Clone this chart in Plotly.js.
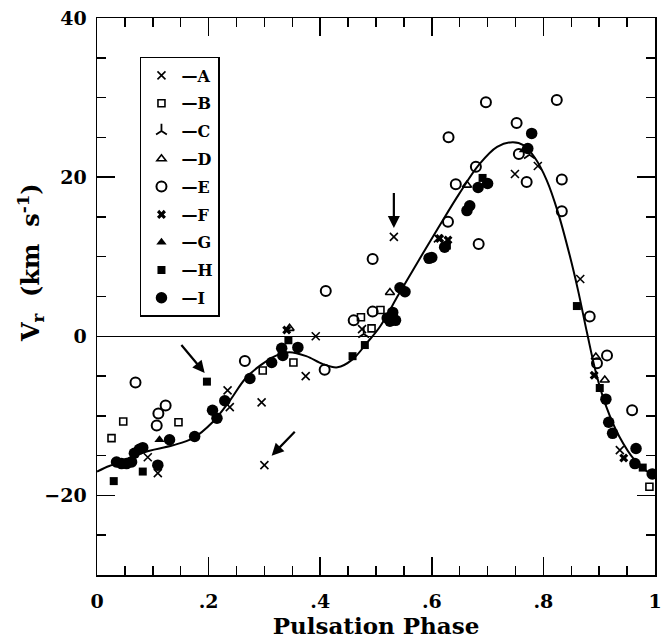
<!DOCTYPE html>
<html>
<head>
<meta charset="utf-8">
<script src="https://cdn.plot.ly/plotly-3.0.1.min.js"></script>
<style>html,body{margin:0;padding:0;background:#fff;}#chart{width:663px;height:639px;}</style>
</head>
<body>
<div id="chart"></div>
<script>
// Fitted curve (phase, Vr)
const curvePhase = [0.0, 0.022, 0.035, 0.082, 0.136, 0.172, 0.207, 0.238, 0.266, 0.294, 0.322, 0.345, 0.375, 0.405, 0.431, 0.458, 0.484, 0.507, 0.541, 0.577, 0.613, 0.649, 0.685, 0.717, 0.745, 0.765, 0.785, 0.806, 0.826, 0.847, 0.862, 0.878, 0.895, 0.913, 0.936, 0.964, 0.99, 1.0];
const curveVr    = [-17.0, -16.3, -16.0, -14.6, -13.7, -12.8, -10.8, -8.1, -5.3, -3.6, -2.4, -2.0, -2.5, -3.5, -3.9, -2.9, -0.8, 1.2, 5.3, 9.6, 13.8, 17.9, 21.6, 23.8, 24.4, 24.0, 22.4, 19.6, 15.6, 10.2, 5.8, 0.5, -4.8, -8.9, -12.6, -15.6, -17.2, -17.5];

// Observations by data set
const A_phase = [0.091, 0.109, 0.234, 0.238, 0.295, 0.300, 0.374, 0.392, 0.475, 0.532, 0.611, 0.749, 0.790, 0.866, 0.937];
const A_vr    = [-15.2, -17.2, -6.8, -8.9, -8.3, -16.2, -5.0, 0.0, 0.9, 12.5, 12.3, 20.4, 21.4, 7.2, -14.3];
const B_phase = [0.026, 0.047, 0.146, 0.297, 0.352, 0.473, 0.492, 0.508, 0.990];
const B_vr    = [-12.8, -10.7, -10.8, -4.3, -3.3, 2.4, 1.0, 3.3, -18.9];
const C_phase = [0.478, 0.775];
const C_vr    = [0.3, 22.8];
const D_phase = [0.345, 0.525, 0.663, 0.894, 0.910];
const D_vr    = [1.0, 5.5, 19.0, -2.6, -5.5];
const E_phase = [0.069, 0.107, 0.110, 0.123, 0.265, 0.408, 0.410, 0.460, 0.494, 0.494, 0.629, 0.630, 0.643, 0.679, 0.684, 0.697, 0.752, 0.756, 0.770, 0.824, 0.833, 0.833, 0.883, 0.896, 0.914, 0.959];
const E_vr    = [-5.8, -11.2, -9.7, -8.7, -3.1, -4.2, 5.7, 2.0, 3.1, 9.7, 14.4, 25.0, 19.1, 21.3, 11.6, 29.4, 26.8, 22.9, 19.4, 29.7, 19.7, 15.7, 2.5, -3.4, -2.4, -9.3];
const F_phase = [0.340, 0.614, 0.629, 0.891, 0.944];
const F_vr    = [0.8, 12.3, 12.1, -4.9, -15.3];
const G_phase = [0.112, 0.765];
const G_vr    = [-13.0, 23.4];
const H_phase = [0.030, 0.082, 0.197, 0.343, 0.458, 0.480, 0.627, 0.691, 0.860, 0.901, 0.978];
const H_vr    = [-18.2, -17.0, -5.7, -0.5, -2.5, -1.1, 11.4, 19.9, 3.8, -6.5, -16.5];
const I_phase = [0.035, 0.044, 0.053, 0.062, 0.067, 0.076, 0.082, 0.109, 0.130, 0.175, 0.207, 0.215, 0.229, 0.274, 0.313, 0.331, 0.333, 0.360, 0.520, 0.525, 0.530, 0.535, 0.543, 0.552, 0.595, 0.600, 0.623, 0.663, 0.668, 0.683, 0.700, 0.772, 0.779, 0.912, 0.917, 0.924, 0.966, 0.964, 0.995];
const I_vr    = [-15.8, -16.0, -16.0, -15.8, -14.7, -14.2, -14.0, -16.2, -13.0, -12.6, -9.3, -10.3, -8.1, -5.3, -3.3, -1.5, -2.4, -1.4, 2.3, 1.9, 3.0, 2.0, 6.1, 5.6, 9.8, 9.9, 11.2, 15.8, 16.4, 18.7, 19.2, 23.6, 25.5, -7.9, -10.8, -12.2, -14.1, -16.0, -17.3];

const seriesNames = ["—A", "—B", "—C", "—D", "—E", "—F", "—G", "—H", "—I"];

// Arrows: tip (x,y) and tail (ax,ay) in data units
const arrowTipX  = [0.193, 0.532, 0.313];
const arrowTipY  = [-4.6, 13.6, -15.0];
const arrowTailX = [0.149, 0.532, 0.357];
const arrowTailY = [-0.9, 18.2, -11.8];

const xTickVals = [0, 0.2, 0.4, 0.6, 0.8, 1];
const xTickText = ["0", ".2", ".4", ".6", ".8", "1"];
const yTickVals = [-20, 0, 20, 40];
const yTickText = ["\u221220", "0", "20", "40"];
const xTitle = "Pulsation Phase";
const yTitle = "V<sub>r</sub>&nbsp;&nbsp;(km&nbsp;&nbsp;s<sup>-1</sup>)";

const styles = [
  {symbol: "x-thin-open", size: 8, line: {width: 1.6, color: "black"}, color: "black"},
  {symbol: "square-open", size: 7, line: {width: 1.6, color: "black"}, color: "black"},
  {symbol: "y-up-open", size: 9, line: {width: 1.8, color: "black"}, color: "black"},
  {symbol: "triangle-up-open", size: 8, line: {width: 1.6, color: "black"}, color: "black"},
  {symbol: "circle-open", size: 10, line: {width: 2, color: "black"}, color: "black"},
  {symbol: "x", size: 8, line: {width: 0}, color: "black"},
  {symbol: "triangle-up", size: 9, line: {width: 0}, color: "black"},
  {symbol: "square", size: 8, line: {width: 0}, color: "black"},
  {symbol: "circle", size: 11.5, line: {width: 0}, color: "black"}
];
const xs = [A_phase, B_phase, C_phase, D_phase, E_phase, F_phase, G_phase, H_phase, I_phase];
const ys = [A_vr, B_vr, C_vr, D_vr, E_vr, F_vr, G_vr, H_vr, I_vr];

const traces = [{
  x: curvePhase, y: curveVr, type: "scatter", mode: "lines",
  line: {color: "black", width: 2, shape: "spline", smoothing: 1},
  showlegend: false, hoverinfo: "skip"
}];
for (let i = 0; i < xs.length; i++) {
  traces.push({
    x: xs[i], y: ys[i], type: "scatter", mode: "markers",
    name: seriesNames[i], legendgroup: "g" + i,
    marker: styles[i]
  });
}

const fontFam = "DejaVu Serif";
const annotations = arrowTipX.map((x, i) => ({
  x: x, y: arrowTipY[i], ax: arrowTailX[i], ay: arrowTailY[i],
  xref: "x", yref: "y", axref: "x", ayref: "y",
  text: "", showarrow: true, arrowhead: 2, arrowsize: 1.1, arrowwidth: 2.2, arrowcolor: "black"
}));
// y-axis title, placed as in the reference (slightly above the axis centre)
annotations.push({
  text: yTitle, xref: "paper", yref: "paper", x: -0.12, y: 0.56,
  xanchor: "center", yanchor: "middle", textangle: -90, showarrow: false,
  font: {family: fontFam, size: 24, weight: "bold", color: "black"}
});

const layout = {
  width: 663, height: 639,
  margin: {l: 97, r: 8, t: 18, b: 64},
  paper_bgcolor: "white", plot_bgcolor: "white",
  font: {family: fontFam, color: "black", size: 18},
  showlegend: true,
  legend: {
    x: 0.077, y: 0.93, xanchor: "left", yanchor: "top",
    bordercolor: "black", borderwidth: 1.5, bgcolor: "white",
    font: {family: fontFam, size: 16, weight: "bold", color: "black"},
    tracegroupgap: 4, itemwidth: 30
  },
  xaxis: {
    range: [0, 1], tickvals: xTickVals, ticktext: xTickText,
    ticks: "inside", ticklen: 18, tickwidth: 1.5, tickcolor: "black",
    minor: {dtick: 0.05, ticks: "inside", ticklen: 9, tickwidth: 1.5, tickcolor: "black"},
    showline: true, linecolor: "black", linewidth: 1.5, mirror: "ticks",
    showgrid: false, zeroline: false,
    tickfont: {family: fontFam, size: 19, weight: "bold"},
    ticklabelstandoff: 9,
    title: {text: xTitle, font: {family: fontFam, size: 23, weight: "bold"}, standoff: 4}
  },
  yaxis: {
    range: [-30, 40], tickvals: yTickVals, ticktext: yTickText,
    ticks: "inside", ticklen: 18, tickwidth: 1.5, tickcolor: "black",
    minor: {dtick: 5, ticks: "inside", ticklen: 9, tickwidth: 1.5, tickcolor: "black"},
    showline: true, linecolor: "black", linewidth: 1.5, mirror: "ticks",
    showgrid: false, zeroline: true, zerolinecolor: "black", zerolinewidth: 1.3,
    tickfont: {family: fontFam, size: 19, weight: "bold"},
    ticklabelstandoff: 5
  },
  annotations: annotations
};

Plotly.newPlot("chart", traces, layout, {displayModeBar: false, staticPlot: true});
</script>
</body>
</html>
